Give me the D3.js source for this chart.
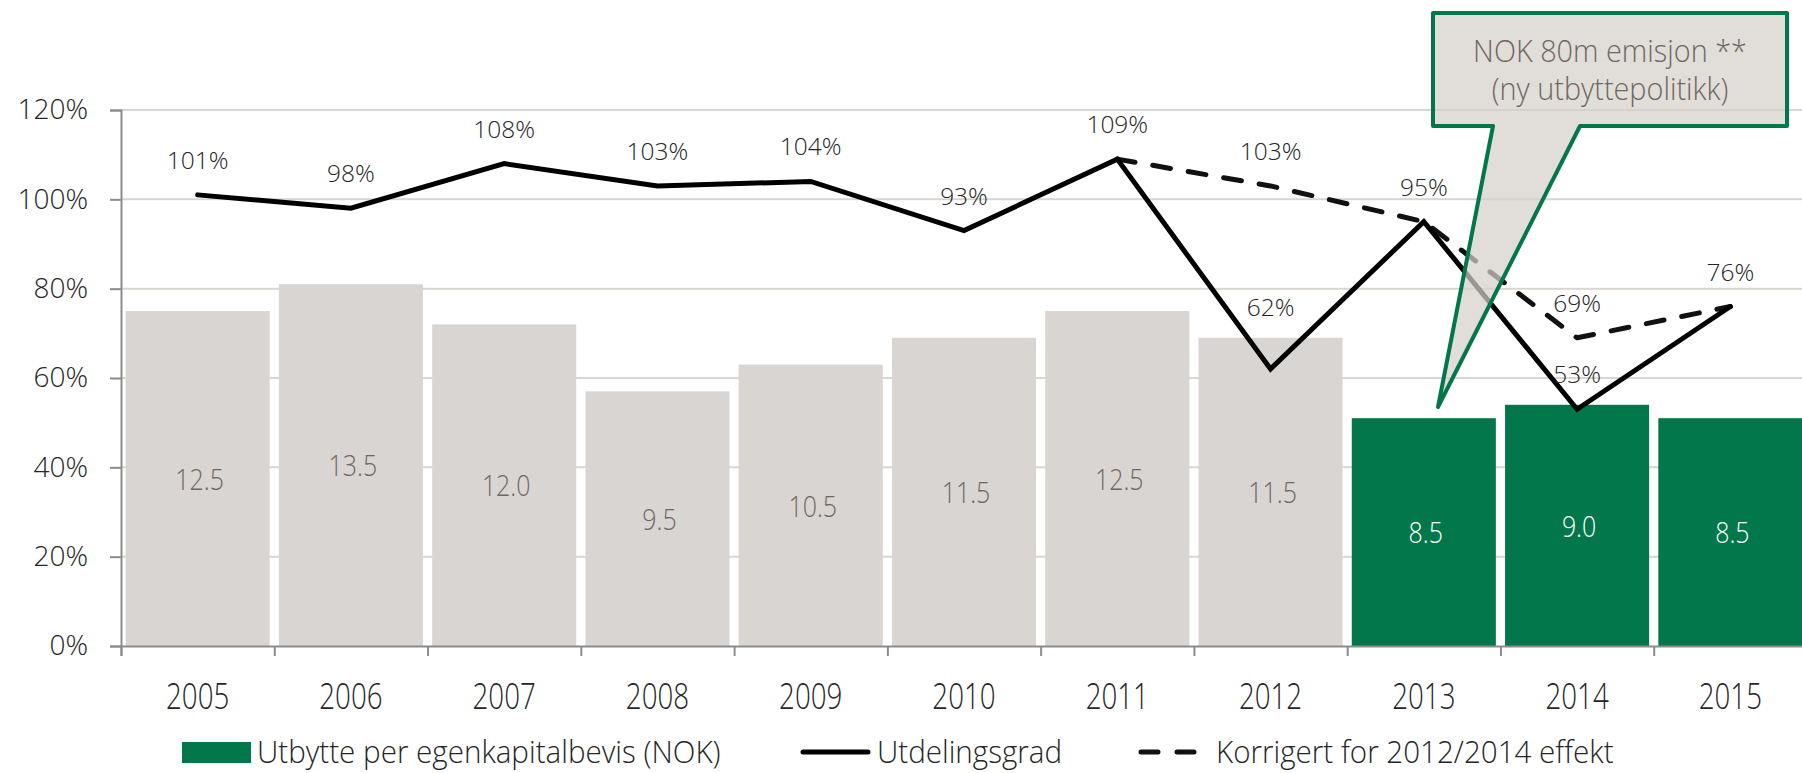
<!DOCTYPE html>
<html>
<head>
<meta charset="utf-8">
<script src="https://cdn.jsdelivr.net/npm/d3@7"></script>
<style>
  html, body { margin: 0; padding: 0; background: #fff; }
  svg { display: block; font-family: "Open Sans", "Noto Sans", sans-serif; }
</style>
</head>
<body>
<svg id="chart" width="1802" height="773"></svg>
<script>
// ---- data ----
const years = ["2005","2006","2007","2008","2009","2010","2011","2012","2013","2014","2015"];
const dividend = [12.5, 13.5, 12.0, 9.5, 10.5, 11.5, 12.5, 11.5, 8.5, 9.0, 8.5];
const payoutRatio = [101, 98, 108, 103, 104, 93, 109, 62, 95, 53, 76];
const adjustedYears = ["2011","2012","2013","2014","2015"];
const adjustedRatio = [109, 103, 95, 69, 76];
const highlightYears = ["2013","2014","2015"];
const yTicks = [0, 20, 40, 60, 80, 100, 120];
const legendLabels = ["Utbytte per egenkapitalbevis (NOK)", "Utdelingsgrad", "Korrigert for 2012/2014 effekt"];
const calloutLines = ["NOK 80m emisjon **", "(ny utbyttepolitikk)"];

// ---- setup ----
const svg = d3.select("#chart");
const GREEN = "#02774B", GREY = "#D9D5D2";
const left = 121, right = 1807, y0 = 646, yTop = 110;

const x = d3.scaleBand().domain(years).range([left, right]).paddingInner(0.06).paddingOuter(0.03);
const xEdge = d3.scaleLinear().domain([0, years.length]).range([left, right]);
const y = d3.scaleLinear().domain([0, 120]).range([y0, yTop]);
const yBar = d3.scaleLinear().domain([0, 20]).range([y0, yTop]);
const cx = d => x(d) + x.bandwidth() / 2;

// gridlines
svg.append("g").selectAll("line").data(yTicks.filter(d => d > 0)).join("line")
  .attr("x1", left).attr("x2", 1802)
  .attr("y1", d => y(d)).attr("y2", d => y(d))
  .attr("stroke", GREY).attr("stroke-width", 2);

// bars
const bars = years.map((yr, i) => ({ yr, v: dividend[i], hl: highlightYears.includes(yr) }));
svg.append("g").selectAll("rect").data(bars).join("rect")
  .attr("x", d => x(d.yr)).attr("width", x.bandwidth())
  .attr("y", d => yBar(d.v)).attr("height", d => y0 - yBar(d.v))
  .attr("fill", d => d.hl ? GREEN : GREY);

// bar labels
svg.append("g").selectAll("text").data(bars).join("text")
  .attr("transform", d => `translate(${cx(d.yr) + 2},${(yBar(d.v) + y0) / 2}) scale(0.86,1)`)
  .attr("text-anchor", "middle").attr("dominant-baseline", "central")
  .attr("font-size", 29).attr("font-weight", 300)
  .attr("fill", d => d.hl ? "#ffffff" : "#6E6864")
  .text(d => d.v.toFixed(1));

// y axis
const yAxis = d3.axisLeft(y).tickValues(yTicks).tickSize(11).tickPadding(22).tickFormat(d => d + "%");
const gy = svg.append("g").attr("transform", `translate(${left},0)`).call(yAxis);
gy.select(".domain").attr("stroke", "#8C8C8C").attr("stroke-width", 2);
gy.selectAll(".tick line").attr("stroke", "#8C8C8C").attr("stroke-width", 2);
gy.selectAll(".tick text").attr("font-size", 28).attr("font-weight", 300).attr("fill", "#262626")
  .attr("font-family", '"Open Sans", sans-serif');

// x axis (ticks at category boundaries)
const xAxis = d3.axisBottom(xEdge).tickValues(d3.range(0, years.length + 1)).tickSize(10).tickFormat("");
const gx = svg.append("g").attr("transform", `translate(0,${y0})`).call(xAxis);
gx.select(".domain").attr("stroke", "#8C8C8C").attr("stroke-width", 2);
gx.selectAll(".tick line").attr("stroke", "#8C8C8C").attr("stroke-width", 2);

svg.append("g").selectAll("text").data(years).join("text")
  .attr("transform", d => `translate(${cx(d)},${695}) scale(0.77,1)`)
  .attr("text-anchor", "middle").attr("dominant-baseline", "central")
  .attr("font-size", 36).attr("font-weight", 300).attr("fill", "#262626")
  .text(d => d);

// lines
const line = d3.line().x(d => cx(d.yr)).y(d => y(d.v));
const solidData = years.map((yr, i) => ({ yr, v: payoutRatio[i] }));
const dashData = adjustedYears.map((yr, i) => ({ yr, v: adjustedRatio[i] }));

svg.append("path").datum(dashData).attr("d", line)
  .attr("fill", "none").attr("stroke", "#111").attr("stroke-width", 5)
  .attr("stroke-dasharray", "18,18").attr("stroke-linecap", "round").attr("stroke-linejoin", "round");
svg.append("path").datum(solidData).attr("d", line)
  .attr("fill", "none").attr("stroke", "#000").attr("stroke-width", 5)
  .attr("stroke-linecap", "round").attr("stroke-linejoin", "miter");

// line labels
const labelNudge = { "2012": -27 };
const lineLabels = solidData.map(d => ({ ...d, dy: labelNudge[d.yr] || 0 }))
  .concat(dashData.filter(d => d.yr === "2012" || d.yr === "2014").map(d => ({ ...d, dy: 0 })));
svg.append("g").selectAll("text").data(lineLabels).join("text")
  .attr("x", d => cx(d.yr)).attr("y", d => y(d.v) - 26 + d.dy)
  .attr("text-anchor", "middle")
  .attr("font-size", 24.5).attr("font-weight", 300).attr("fill", "#262626")
  .text(d => d.v + "%");

// callout
const bx0 = 1433, bx1 = 1787, by0 = 13, by1 = 126;
const tip = [1438, 407];
const callout = d3.path();
callout.moveTo(bx0, by0); callout.lineTo(bx1, by0); callout.lineTo(bx1, by1);
callout.lineTo(1580, by1); callout.lineTo(tip[0], tip[1]); callout.lineTo(1493, by1);
callout.lineTo(bx0, by1); callout.closePath();
svg.append("path").attr("d", callout.toString())
  .attr("fill", "#D6D0CB").attr("fill-opacity", 0.72)
  .attr("stroke", GREEN).attr("stroke-width", 4).attr("stroke-linejoin", "round");
svg.append("g").selectAll("text").data(calloutLines).join("text")
  .attr("transform", (d, i) => `translate(${(bx0 + bx1) / 2},${62 + i * 38}) scale(0.93,1)`)
  .attr("text-anchor", "middle")
  .attr("font-size", 31).attr("font-weight", 300).attr("fill", "#6E6762")
  .text(d => d);

// legend
const ly = 751;
const lg = svg.append("g");
lg.append("rect").attr("x", 182).attr("y", ly - 9).attr("width", 69).attr("height", 21).attr("fill", GREEN);
lg.append("line").attr("x1", 803).attr("x2", 868).attr("y1", ly + 1).attr("y2", ly + 1)
  .attr("stroke", "#000").attr("stroke-width", 5).attr("stroke-linecap", "round");
lg.append("line").attr("x1", 1141).attr("x2", 1205).attr("y1", ly + 1).attr("y2", ly + 1)
  .attr("stroke", "#111").attr("stroke-width", 5).attr("stroke-linecap", "round")
  .attr("stroke-dasharray", "17,19");
const legendX = [257, 877, 1216];
lg.selectAll("text").data(legendLabels).join("text")
  .attr("transform", (d, i) => `translate(${legendX[i]},${ly}) scale(0.97,1)`)
  .attr("dominant-baseline", "central")
  .attr("font-size", 30.5).attr("font-weight", 300).attr("fill", "#262626")
  .text(d => d);
</script>
</body>
</html>
